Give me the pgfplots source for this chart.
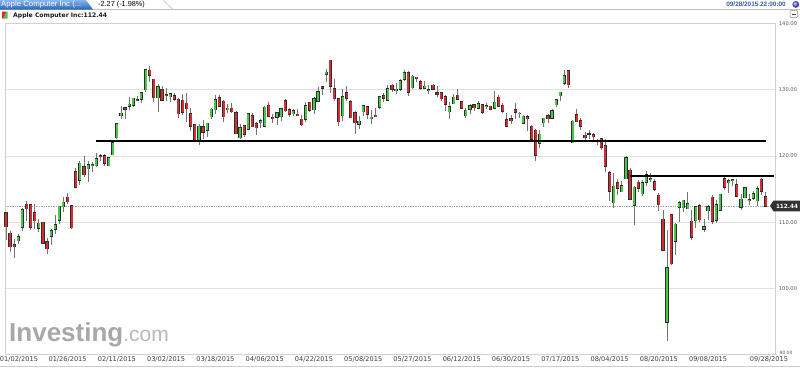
\documentclass[border=0pt]{standalone}
\usepackage{pgfplots}
\pgfplotsset{compat=1.18}
\usepackage{pgfplotstable}
\usepackage{fontspec}
\setmainfont{DejaVu Sans}
\newfontfamily\lib{Liberation Sans}
\definecolor{cgreen}{RGB}{72,200,72}
\definecolor{cred}{RGB}{215,45,50}
\definecolor{cedge}{RGB}{45,45,45}
\definecolor{cwick}{RGB}{115,115,115}
\definecolor{tabtop}{RGB}{135,180,235}
\definecolor{tabbot}{RGB}{40,100,180}
\definecolor{dateblue}{RGB}{50,95,170}
\definecolor{tick}{RGB}{85,85,85}
\pgfplotstableread{
i date o h l c
0 01/02 111.39 111.44 107.35 109.33
1 01/05 108.29 108.65 105.41 106.25
2 01/06 106.54 107.43 104.63 106.26
3 01/07 107.20 108.20 106.70 107.75
4 01/08 109.23 112.15 108.70 111.89
5 01/09 112.67 113.25 110.21 112.01
6 01/12 112.60 112.63 108.80 109.25
7 01/13 111.43 112.80 108.91 110.22
8 01/14 109.04 110.49 108.50 109.80
9 01/15 110.00 110.06 106.66 106.82
10 01/16 107.03 107.58 105.20 105.99
11 01/20 107.84 108.97 106.50 108.72
12 01/21 108.95 111.06 108.27 109.55
13 01/22 110.26 112.47 109.72 112.40
14 01/23 112.30 113.75 111.53 112.98
15 01/26 113.74 114.36 112.80 113.10
16 01/27 112.42 112.48 109.03 109.14
17 01/28 117.63 118.12 115.31 115.31
18 01/29 116.32 119.19 115.56 118.90
19 01/30 118.40 120.00 116.85 117.16
20 02/02 118.05 119.17 116.08 118.63
21 02/03 118.50 119.09 117.61 118.65
22 02/04 118.50 120.51 118.31 119.56
23 02/05 120.02 120.23 119.25 119.94
24 02/06 120.02 120.25 118.45 118.93
25 02/09 118.55 119.84 118.43 119.72
26 02/10 120.17 122.15 120.16 122.02
27 02/11 122.77 124.92 122.50 124.88
28 02/12 126.06 127.48 125.57 126.46
29 02/13 127.28 127.28 125.65 127.08
30 02/17 127.49 128.88 126.92 127.83
31 02/18 127.63 128.78 127.45 128.72
32 02/19 128.48 129.03 128.33 128.45
33 02/20 128.62 129.50 128.05 129.50
34 02/23 130.02 133.00 129.66 133.00
35 02/24 132.94 133.60 131.17 132.17
36 02/25 131.56 131.60 128.15 128.79
37 02/26 128.79 130.87 126.61 130.42
38 02/27 130.00 130.57 128.24 128.46
39 03/02 129.25 130.28 128.30 129.09
40 03/03 128.96 129.52 128.09 129.36
41 03/04 129.10 129.56 128.32 128.54
42 03/05 128.58 128.75 125.76 126.41
43 03/06 128.40 129.37 126.26 126.60
44 03/09 127.96 129.57 125.06 127.14
45 03/10 126.41 127.22 123.80 124.51
46 03/11 124.75 124.77 122.11 122.24
47 03/12 122.31 124.90 121.63 124.45
48 03/13 124.40 125.40 122.58 123.59
49 03/16 123.88 124.95 122.87 124.95
50 03/17 125.90 127.32 125.65 127.04
51 03/18 127.00 129.16 126.37 128.47
52 03/19 128.75 129.25 127.40 127.50
53 03/20 128.25 128.40 125.16 125.90
54 03/23 127.12 127.85 126.52 127.21
55 03/24 127.23 128.04 126.56 126.69
56 03/25 126.54 126.82 123.38 123.38
57 03/26 122.76 124.88 122.60 124.24
58 03/27 124.57 124.70 122.91 123.25
59 03/30 124.05 126.40 124.00 126.37
60 03/31 126.09 126.49 124.36 124.43
61 04/01 124.82 125.12 123.10 124.25
62 04/02 125.03 125.56 124.19 125.32
63 04/06 124.47 127.51 124.33 127.35
64 04/07 127.64 128.12 125.98 126.01
65 04/08 125.85 126.40 124.97 125.60
66 04/09 125.85 126.58 124.66 126.56
67 04/10 125.95 127.21 125.26 127.10
68 04/13 128.37 128.57 126.61 126.85
69 04/14 127.00 127.29 125.91 126.30
70 04/15 126.41 127.13 126.01 126.78
71 04/16 126.28 127.10 126.11 126.17
72 04/17 125.55 126.14 124.46 124.75
73 04/20 125.57 128.12 125.17 127.60
74 04/21 128.10 128.20 126.67 126.91
75 04/22 126.99 128.87 126.32 128.62
76 04/23 128.30 130.42 128.14 129.67
77 04/24 130.49 130.63 129.23 130.28
78 04/27 132.31 133.13 131.15 132.65
79 04/28 134.46 134.54 129.57 130.56
80 04/29 130.16 131.59 128.30 128.64
81 04/30 128.64 128.64 124.58 125.15
82 05/01 126.10 130.13 125.30 128.95
83 05/04 129.50 130.57 128.26 128.70
84 05/05 128.15 128.45 125.78 125.80
85 05/06 126.56 126.75 123.36 125.01
86 05/07 124.77 126.08 124.02 125.26
87 05/08 126.68 127.62 126.11 127.62
88 05/11 127.39 127.56 125.63 126.32
89 05/12 125.60 126.88 124.82 125.87
90 05/13 126.15 127.19 125.87 126.01
91 05/14 127.41 128.95 127.16 128.95
92 05/15 129.07 129.49 128.21 128.77
93 05/18 128.38 130.72 128.36 130.19
94 05/19 130.69 130.88 129.64 130.07
95 05/20 130.00 130.98 129.34 130.06
96 05/21 130.07 131.63 129.83 131.39
97 05/22 131.60 132.97 131.40 132.54
98 05/26 132.60 132.91 129.12 129.62
99 05/27 130.34 132.26 130.05 132.05
100 05/28 131.86 131.95 131.10 131.78
101 05/29 131.23 131.45 129.90 130.28
102 06/01 130.28 131.39 130.05 130.54
103 06/02 129.86 130.66 129.32 129.96
104 06/03 130.66 130.94 129.90 130.12
105 06/04 129.58 130.58 128.91 129.36
106 06/05 129.50 129.69 128.36 128.65
107 06/08 128.90 129.21 126.83 127.80
108 06/09 126.70 128.08 125.62 127.42
109 06/10 127.92 129.34 127.85 128.88
110 06/11 129.18 130.18 128.48 128.59
111 06/12 128.19 128.33 127.11 127.17
112 06/15 126.10 127.24 125.71 126.92
113 06/16 127.03 127.85 126.37 127.60
114 06/17 127.72 127.88 126.74 127.30
115 06/18 127.23 128.31 127.22 127.88
116 06/19 127.71 127.82 126.40 126.60
117 06/22 127.49 128.06 127.08 127.61
118 06/23 127.48 127.61 126.88 127.03
119 06/24 127.21 129.80 127.12 128.11
120 06/25 128.86 129.20 127.50 127.50
121 06/26 127.67 127.99 126.51 126.75
122 06/29 125.46 126.47 124.48 124.53
123 06/30 125.57 126.12 124.86 125.43
124 07/01 127.00 128.00 125.52 126.60
125 07/02 126.43 126.69 125.77 126.44
126 07/06 124.94 126.23 124.85 126.00
127 07/07 125.89 126.15 123.77 125.69
128 07/08 124.48 124.64 122.54 122.57
129 07/09 123.85 124.06 119.22 120.07
130 07/10 121.94 123.85 121.21 123.28
131 07/13 125.03 125.76 124.32 125.66
132 07/14 126.04 126.37 125.04 125.61
133 07/15 125.72 127.15 125.58 126.82
134 07/16 127.74 128.57 127.35 128.51
135 07/17 129.08 129.62 128.31 129.62
136 07/20 130.97 132.97 130.70 132.07
137 07/21 132.85 132.92 130.32 130.75
138 07/22 121.99 125.50 121.99 125.22
139 07/23 126.20 127.09 125.06 125.16
140 07/24 125.32 125.74 123.90 124.50
141 07/27 123.09 123.61 122.12 122.77
142 07/28 123.38 123.91 122.55 123.38
143 07/29 123.15 123.50 122.27 122.99
144 07/30 122.32 122.57 121.71 122.37
145 07/31 122.60 122.64 120.91 121.30
146 08/03 121.50 122.57 117.52 118.44
147 08/04 117.42 117.70 113.25 114.64
148 08/05 112.95 117.44 112.10 115.40
149 08/06 115.97 116.50 114.12 115.13
150 08/07 114.58 116.25 114.50 115.52
151 08/10 116.53 119.99 116.53 119.72
152 08/11 117.81 118.18 113.33 113.49
153 08/12 112.53 115.42 109.63 115.24
154 08/13 116.04 116.40 114.54 115.15
155 08/14 114.32 116.31 114.01 115.96
156 08/17 116.04 117.65 115.50 117.16
157 08/18 116.43 117.44 116.01 116.50
158 08/19 116.10 116.52 114.68 115.01
159 08/20 114.08 114.35 111.63 112.65
160 08/21 110.43 111.90 105.65 105.76
161 08/24 94.87 108.80 92.00 103.12
162 08/25 111.11 111.11 103.50 103.74
163 08/26 107.09 109.89 105.05 109.69
164 08/27 112.23 113.24 110.02 112.92
165 08/28 112.17 113.31 111.54 113.29
166 08/31 112.03 114.53 112.00 112.76
167 09/01 110.15 111.88 107.36 107.72
168 09/02 110.23 112.34 109.13 112.34
169 09/03 112.49 112.78 110.04 110.37
170 09/04 108.97 110.45 108.51 109.27
171 09/08 111.75 112.56 110.32 112.31
172 09/09 113.76 114.02 109.77 110.15
173 09/10 110.27 113.28 109.90 112.57
174 09/11 111.79 114.21 111.76 114.21
175 09/14 116.58 116.89 114.86 115.31
176 09/15 115.93 116.53 114.42 116.28
177 09/16 116.25 116.54 115.44 116.41
178 09/17 115.66 116.49 113.72 113.92
179 09/18 112.21 114.30 111.87 113.45
180 09/21 113.67 115.37 113.66 115.21
181 09/22 113.38 114.18 112.52 113.40
182 09/23 113.63 114.72 113.30 114.32
183 09/24 113.25 115.50 112.37 115.00
184 09/25 116.44 116.69 114.02 114.71
185 09/28 113.85 114.57 112.44 112.44
}\aapl
\pgfplotsset{candle/.style={draw=none, mark=none, forget plot,
  error bars/y dir=both, error bars/y explicit, error bars/error mark=none}}
\begin{document}
\begin{tikzpicture}
\path[use as bounding box, fill=white] (0pt,0pt) rectangle (800pt,-368pt);
% header row 1
\draw[black!25, line width=0.6pt] (0pt,-9.5pt) -- (800pt,-9.5pt);
\draw[black!25, line width=0.6pt] (163pt,0pt) -- (173pt,-9.5pt);
\shade[top color=tabtop, bottom color=tabbot] (0pt,0pt) -- (86pt,0pt) -- (93pt,-9.5pt) -- (0pt,-9.5pt) -- cycle;
\node[anchor=west, inner sep=0pt, text=white, font=\lib\fontsize{7.8}{8}\selectfont] at (1pt,-4.8pt) {Apple Computer Inc (...};
\node[anchor=west, inner sep=0pt, text=black, font=\lib\fontsize{7.3}{8}\selectfont] at (98pt,-4.6pt) {-2.27 (-1.98\%)};
\node[anchor=east, inner sep=0pt, text=dateblue, font=\lib\bfseries\fontsize{6.4}{7}\selectfont] at (786pt,-4.6pt) {09/28/2015 22:00:00};
\shade[ball color=blue!60] (795.8pt,-4.4pt) circle (3.4pt);
% header row 2
\fill[cred] (2pt,-11.5pt) -- (6.5pt,-11.5pt) -- (3.5pt,-18.5pt) -- (2pt,-18.5pt) -- cycle;
\fill[cgreen] (6.5pt,-11.5pt) -- (7.5pt,-11.5pt) -- (7.5pt,-18.5pt) -- (3.5pt,-18.5pt) -- cycle;
\node[anchor=west, inner sep=0pt, text=black!90, font=\bfseries\fontsize{6.1}{7}\selectfont] at (13pt,-15.4pt) {Apple Computer Inc:112.44};
\draw[black!45, fill=white, rounded corners=1pt, line width=0.5pt] (790pt,-10.5pt) rectangle (797.5pt,-17.5pt);
\fill[black!75] (791.6pt,-13.5pt) rectangle (795.9pt,-14.7pt);
% bottom line
\draw[black!20, line width=0.6pt] (0pt,-366pt) -- (800pt,-366pt);
% watermark
\node[anchor=base west, inner sep=0pt] at (9pt,-341.7pt) {\lib\bfseries\fontsize{26}{26}\selectfont\color[RGB]{168,168,168}Investing\mdseries\fontsize{21}{21}\selectfont\color[RGB]{185,185,185}.com};
\begin{axis}[
  at={(5pt,-354.4pt)}, anchor=south west,
  scale only axis, width=770pt, height=330.8pt,
  xmin=-0.24, xmax=187.3, ymin=90, ymax=140,
  axis line style={draw=black!18, line width=0.6pt},
  xtick=\empty, ytick={100,110,120,130}, yticklabels={},
  ymajorgrids, grid style={black!12, line width=0.6pt},
  major tick length=0pt,
  clip=false,
]
\addplot[black!35, densely dotted, line width=0.7pt] coordinates {(-0.24,112.44) (187.3,112.44)};
\addplot[candle, error bars/error bar style={draw=cwick, line width=0.8pt}]
  table[x=i, y expr={(\thisrow{h}+\thisrow{l})/2}, y error expr={(\thisrow{h}-\thisrow{l})/2}]{\aapl};
\addplot[candle, error bars/error bar style={draw=cedge, line width=3.2pt}]
  table[x=i, y expr={(\thisrow{o}+\thisrow{c})/2}, y error expr={abs(\thisrow{c}-\thisrow{o})/2+0.09}]{\aapl};
\addplot[candle, x filter/.expression={\thisrow{c}>\thisrow{o} ? x : nan},
  error bars/error bar style={draw=cgreen, line width=2pt}]
  table[x=i, y expr={(\thisrow{o}+\thisrow{c})/2}, y error expr={abs(\thisrow{c}-\thisrow{o})/2}]{\aapl};
\addplot[candle, x filter/.expression={\thisrow{c}<\thisrow{o} ? x : nan},
  error bars/error bar style={draw=cred, line width=2pt}]
  table[x=i, y expr={(\thisrow{o}+\thisrow{c})/2}, y error expr={abs(\thisrow{c}-\thisrow{o})/2}]{\aapl};
\addplot[black, line width=1.8pt] coordinates {(21.9,122.3) (185.1,122.3)};
\addplot[black, line width=1.5pt] coordinates {(152.1,117.0) (187.0,117.0)};
\end{axis}
% price tag
\fill[black!80] (770pt,-205.9pt) -- (773.5pt,-200.5pt) -- (800pt,-200.5pt) -- (800pt,-211.3pt) -- (773.5pt,-211.3pt) -- cycle;
\node[inner sep=0pt, text=white, font=\bfseries\fontsize{5.7}{6}\selectfont] at (787pt,-205.9pt) {112.44};
% right labels
\begin{scope}[every node/.style={inner sep=0pt, text=tick, font=\fontsize{5.2}{6}\selectfont}]
\node at (788pt,-23.6pt) {140.00};
\node at (788pt,-89.8pt) {130.00};
\node at (788pt,-155.9pt) {120.00};
\node at (788pt,-222.1pt) {110.00};
\node at (788pt,-288.2pt) {100.00};
\node[font=\fontsize{4.4}{5}\selectfont] at (786pt,-352.7pt) {90.00};
\end{scope}
% date labels
\begin{scope}[every node/.style={inner sep=0pt, text=black!75, font=\fontsize{6.6}{7}\selectfont}]
\node at (19pt,-359.5pt) {01/02/2015};
\node at (67.6pt,-359.5pt) {01/26/2015};
\node at (116.9pt,-359.5pt) {02/11/2015};
\node at (166.1pt,-359.5pt) {03/02/2015};
\node at (215.4pt,-359.5pt) {03/18/2015};
\node at (264.7pt,-359.5pt) {04/06/2015};
\node at (314.0pt,-359.5pt) {04/22/2015};
\node at (363.2pt,-359.5pt) {05/08/2015};
\node at (412.5pt,-359.5pt) {05/27/2015};
\node at (461.8pt,-359.5pt) {06/12/2015};
\node at (511.0pt,-359.5pt) {06/30/2015};
\node at (560.3pt,-359.5pt) {07/17/2015};
\node at (609.6pt,-359.5pt) {08/04/2015};
\node at (658.9pt,-359.5pt) {08/20/2015};
\node at (708.1pt,-359.5pt) {09/08/2015};
\node at (769pt,-359.5pt) {09/28/2015};
\end{scope}
\end{tikzpicture}
\end{document}
